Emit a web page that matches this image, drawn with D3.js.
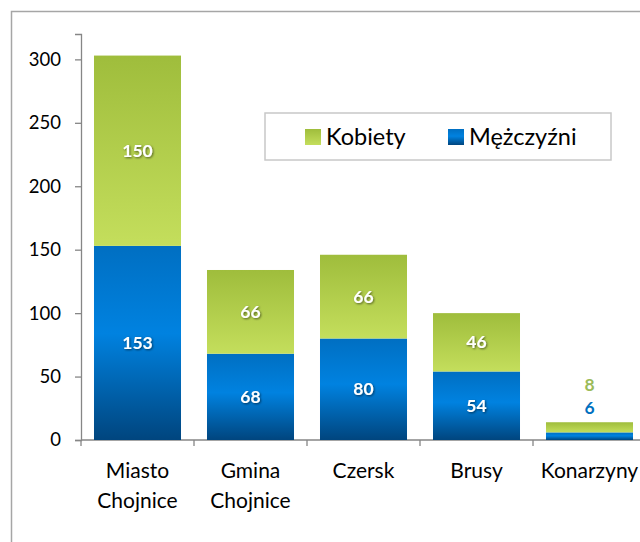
<!DOCTYPE html>
<html>
<head>
<meta charset="utf-8">
<script src="https://cdn.jsdelivr.net/npm/d3@7"></script>
<style>
  html, body { margin: 0; padding: 0; background: #fff; }
  svg { display: block; font-family: Lato, "Noto Sans", sans-serif; }
</style>
</head>
<body>
<div id="chart"></div>
<script>
// categories and series
const categories = ['Miasto Chojnice', 'Gmina Chojnice', 'Czersk', 'Brusy', 'Konarzyny']
const men = [153, 68, 80, 54, 6]      // Mężczyźni
const women = [150, 66, 66, 46, 8]    // Kobiety
const yTicks = [0, 50, 100, 150, 200, 250, 300]

const width = 640
const height = 542
const margin = { top: 34, left: 81, bottom: 102 }

const svg = d3.select('#chart').append('svg')
  .attr('width', width)
  .attr('height', height)

const defs = svg.append('defs')

// gradients used by the bars
const gGreen = defs.append('linearGradient').attr('id', 'gGreen')
  .attr('x1', 0).attr('y1', 0).attr('x2', 0).attr('y2', 1)
gGreen.append('stop').attr('offset', '0%').attr('stop-color', '#9fbd3c')
gGreen.append('stop').attr('offset', '100%').attr('stop-color', '#c4de5c')

const gBlue = defs.append('linearGradient').attr('id', 'gBlue')
  .attr('x1', 0).attr('y1', 0).attr('x2', 0).attr('y2', 1)
gBlue.append('stop').attr('offset', '0%').attr('stop-color', '#006fc2')
gBlue.append('stop').attr('offset', '45%').attr('stop-color', '#0082e0')
gBlue.append('stop').attr('offset', '100%').attr('stop-color', '#00457e')

const shadow = defs.append('filter').attr('id', 'shadow')
  .attr('x', '-20%').attr('y', '-20%').attr('width', '140%').attr('height', '140%')
shadow.append('feDropShadow').attr('dx', 1).attr('dy', 1).attr('stdDeviation', 0.8)
  .attr('flood-color', '#000').attr('flood-opacity', 0.55)

// outer frame
svg.append('rect')
  .attr('x', 11.5).attr('y', 11.5)
  .attr('width', 700).attr('height', 600)
  .attr('fill', 'none')
  .attr('stroke', '#a6a6a6')
  .attr('stroke-width', 1.5)

// scales
const x = d3.scaleBand()
  .domain(categories)
  .range([margin.left, margin.left + 113 * categories.length])
  .paddingInner(0.23)
  .paddingOuter(0.115)

const y = d3.scaleLinear()
  .domain([0, 320])
  .range([height - margin.bottom, margin.top])

// y axis
const yAxis = svg.append('g')
  .attr('transform', `translate(${margin.left},0)`)
  .call(d3.axisLeft(y).tickValues(yTicks).tickSize(6).tickPadding(14))
yAxis.selectAll('path, line').attr('stroke', '#868686').attr('stroke-width', 1.3)
yAxis.selectAll('text').attr('font-size', 18.5).attr('fill', '#000')
  .attr('font-family', 'Lato, "Noto Sans", sans-serif')

// x axis line and ticks at band boundaries
const xAxis = svg.append('g')
xAxis.append('line')
  .attr('x1', margin.left).attr('x2', width)
  .attr('y1', y(0)).attr('y2', y(0))
  .attr('stroke', '#868686').attr('stroke-width', 1.3)
const step = x.step()
xAxis.selectAll('.xtick')
  .data(d3.range(categories.length + 1))
  .join('line')
  .attr('x1', i => margin.left + i * step)
  .attr('x2', i => margin.left + i * step)
  .attr('y1', y(0)).attr('y2', y(0) + 6)
  .attr('stroke', '#868686').attr('stroke-width', 1.3)

// category labels
const catLabels = svg.append('g').selectAll('text')
  .data(categories)
  .join('text')
  .attr('text-anchor', 'middle')
  .attr('font-size', 21)
  .attr('fill', '#000')
catLabels.each(function (d) {
  const words = d.split(' ')
  d3.select(this).selectAll('tspan')
    .data(words)
    .join('tspan')
    .attr('x', x(d) + x.bandwidth() / 2)
    .attr('y', (w, i) => y(0) + 38 + i * 30)
    .text(w => w)
})

// bars
const bars = svg.append('g')
bars.selectAll('.men')
  .data(categories)
  .join('rect')
  .attr('x', d => x(d))
  .attr('width', x.bandwidth())
  .attr('y', (d, i) => y(men[i]))
  .attr('height', (d, i) => y(0) - y(men[i]))
  .attr('fill', 'url(#gBlue)')
bars.selectAll('.women')
  .data(categories)
  .join('rect')
  .attr('x', d => x(d))
  .attr('width', x.bandwidth())
  .attr('y', (d, i) => y(men[i] + women[i]))
  .attr('height', (d, i) => y(men[i]) - y(men[i] + women[i]))
  .attr('fill', 'url(#gGreen)')

// data labels
const labels = svg.append('g')
  .attr('font-size', 17.5)
  .attr('font-weight', 'bold')
  .attr('text-anchor', 'middle')
categories.forEach((d, i) => {
  const cx = x(d) + x.bandwidth() / 2
  if (men[i] + women[i] > 30) {
    labels.append('text')
      .attr('x', cx).attr('y', (y(0) + y(men[i])) / 2)
      .attr('dy', '0.35em')
      .attr('fill', '#fff').attr('filter', 'url(#shadow)')
      .text(men[i])
    labels.append('text')
      .attr('x', cx).attr('y', (y(men[i]) + y(men[i] + women[i])) / 2)
      .attr('dy', '0.35em')
      .attr('fill', '#fff').attr('filter', 'url(#shadow)')
      .text(women[i])
  } else {
    const top = y(men[i] + women[i])
    labels.append('text')
      .attr('x', cx).attr('y', top - 14)
      .attr('dy', '0.35em')
      .attr('fill', '#0070c0')
      .text(men[i])
    labels.append('text')
      .attr('x', cx).attr('y', top - 37)
      .attr('dy', '0.35em')
      .attr('fill', '#9bbb59')
      .text(women[i])
  }
})

// legend
const legend = svg.append('g').attr('transform', 'translate(265,113)')
legend.append('rect')
  .attr('width', 346).attr('height', 47)
  .attr('fill', '#fff')
  .attr('stroke', '#c8c8c8').attr('stroke-width', 1.5)
const legendItems = [
  { name: 'Kobiety', fill: 'url(#gGreen)', x: 40 },
  { name: 'Mężczyźni', fill: 'url(#gBlue)', x: 183 }
]
const li = legend.selectAll('.li')
  .data(legendItems)
  .join('g')
  .attr('transform', d => `translate(${d.x},16)`)
li.append('rect').attr('width', 16).attr('height', 16).attr('fill', d => d.fill)
li.append('text')
  .attr('x', 21).attr('y', 8).attr('dy', '0.36em')
  .attr('font-size', 23.5)
  .attr('fill', '#000')
  .text(d => d.name)
</script>
</body>
</html>
